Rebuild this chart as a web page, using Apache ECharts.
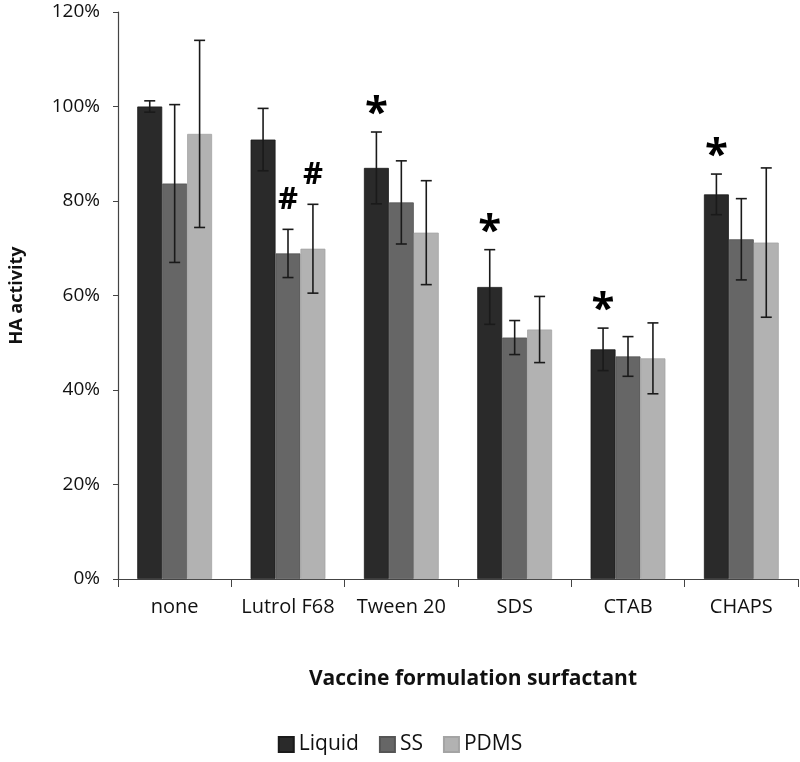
<html>
<head>
    <title></title>
    <meta charset="utf-8">
    <script src="https://cdn.jsdelivr.net/npm/echarts@6/dist/echarts.min.js" type="text/javascript"></script>
</head>
<body style="margin:0">
    <div id="main" style="width: 800px; height: 762px"></div>
    <script>
        var categories = ['none', 'Lutrol F68', 'Tween 20', 'SDS', 'CTAB', 'CHAPS'];
        var yTicks = [0, 20, 40, 60, 80, 100, 120];

        var liquid = [100.0, 93.0, 87.0, 61.8, 48.6, 81.4];
        var liquidErr = [1.2, 6.6, 7.6, 7.9, 4.5, 4.3];
        var ss = [83.7, 68.9, 79.7, 51.1, 47.1, 71.9];
        var ssErr = [16.7, 5.1, 8.8, 3.6, 4.2, 8.6];
        var pdms = [94.2, 69.9, 73.3, 52.8, 46.7, 71.2];
        var pdmsErr = [19.8, 9.4, 11.0, 7.0, 7.5, 15.8];

        // significance marks drawn above the error bars
        var liquidMarks = ['', '', '*', '*', '*', '*'];
        var ssMarks = ['', '#', '', '', '', ''];
        var pdmsMarks = ['', '#', '', '', '', ''];

        var catGap = 0.34;
        var font = '"Open Sans", "Noto Sans", sans-serif';

        function errorSeries(name, idx, vals, errs, marks) {
            var data = [];
            for (var i = 0; i < vals.length; i++) {
                data.push([i, vals[i], errs[i]]);
            }
            return {
                type: 'custom',
                name: name + ' err',
                z: 5,
                silent: true,
                data: data,
                renderItem: function (params, api) {
                    var cat = api.value(0), v = api.value(1), e = api.value(2);
                    var bandW = api.size([1, 0])[0];
                    var barW = bandW * (1 - catGap) / 3;
                    var x = api.coord([cat, v])[0] + (idx - 1) * barW;
                    var top = api.coord([cat, v + e])[1];
                    var bot = api.coord([cat, v - e])[1];
                    var cap = 5.5;
                    var st = { stroke: '#1a1a1a', lineWidth: 1.6 };
                    var children = [
                        { type: 'line', shape: { x1: x, y1: top, x2: x, y2: bot }, style: st },
                        { type: 'line', shape: { x1: x - cap, y1: top, x2: x + cap, y2: top }, style: st },
                        { type: 'line', shape: { x1: x - cap, y1: bot, x2: x + cap, y2: bot }, style: st }
                    ];
                    var m = marks[params.dataIndex];
                    if (m) {
                        var isStar = m === '*';
                        children.push({
                            type: 'text',
                            style: {
                                text: m,
                                x: x,
                                y: isStar ? top - 18 : top - 29,
                                align: 'center',
                                verticalAlign: 'middle',
                                fill: '#000',
                                font: 'bold ' + (isStar ? 42 : 31) + 'px ' + font
                            }
                        });
                    }
                    return { type: 'group', children: children };
                }
            };
        }

        var myChart = echarts.init(document.getElementById('main'));
        var option = {
            animation: false,
            backgroundColor: '#fff',
            color: ['#2a2a2a', '#666666', '#b2b2b2'],
            grid: { left: 114, right: 2, top: 12, bottom: 183 },
            legend: {
                bottom: 2,
                left: 'center',
                icon: 'rect',
                itemWidth: 15,
                itemHeight: 15,
                itemGap: 20,
                data: ['Liquid', 'SS', 'PDMS'],
                textStyle: { fontFamily: font, fontSize: 21, color: '#111' }
            },
            xAxis: {
                type: 'category',
                data: categories,
                name: 'Vaccine formulation surfactant',
                nameLocation: 'middle',
                nameGap: 90,
                nameTextStyle: { fontFamily: font, fontSize: 21, fontWeight: 'bold', color: '#111', padding: [0, 0, 0, 30] },
                axisLine: { lineStyle: { color: '#444', width: 1.2 } },
                axisTick: { show: true, length: 8, lineStyle: { color: '#444' } },
                axisLabel: { interval: 0, hideOverlap: false, fontFamily: font, fontSize: 20, color: '#111', margin: 18 }
            },
            yAxis: {
                type: 'value',
                min: yTicks[0],
                max: yTicks[yTicks.length - 1],
                interval: 20,
                name: 'HA activity',
                nameLocation: 'middle',
                nameGap: 92,
                nameTextStyle: { fontFamily: font, fontSize: 18, fontWeight: 'bold', color: '#111' },
                axisLine: { show: true, lineStyle: { color: '#444', width: 1.2 } },
                axisTick: { show: true, length: 5, lineStyle: { color: '#444' } },
                splitLine: { show: false },
                axisLabel: { fontFamily: font, fontSize: 19, color: '#111', margin: 18, formatter: '{value}%' }
            },
            series: [
                { name: 'Liquid', type: 'bar', data: liquid, barGap: 0, barCategoryGap: (catGap * 100) + '%', itemStyle: { borderColor: '#1a1a1a', borderWidth: 0.8 } },
                { name: 'SS', type: 'bar', data: ss, barGap: 0, barCategoryGap: (catGap * 100) + '%', itemStyle: { borderColor: '#555', borderWidth: 0.8 } },
                { name: 'PDMS', type: 'bar', data: pdms, barGap: 0, barCategoryGap: (catGap * 100) + '%', itemStyle: { borderColor: '#a4a4a4', borderWidth: 0.8 } },
                errorSeries('Liquid', 0, liquid, liquidErr, liquidMarks),
                errorSeries('SS', 1, ss, ssErr, ssMarks),
                errorSeries('PDMS', 2, pdms, pdmsErr, pdmsMarks)
            ]
        };
        myChart.setOption(option);
    </script>
</body>
</html>
